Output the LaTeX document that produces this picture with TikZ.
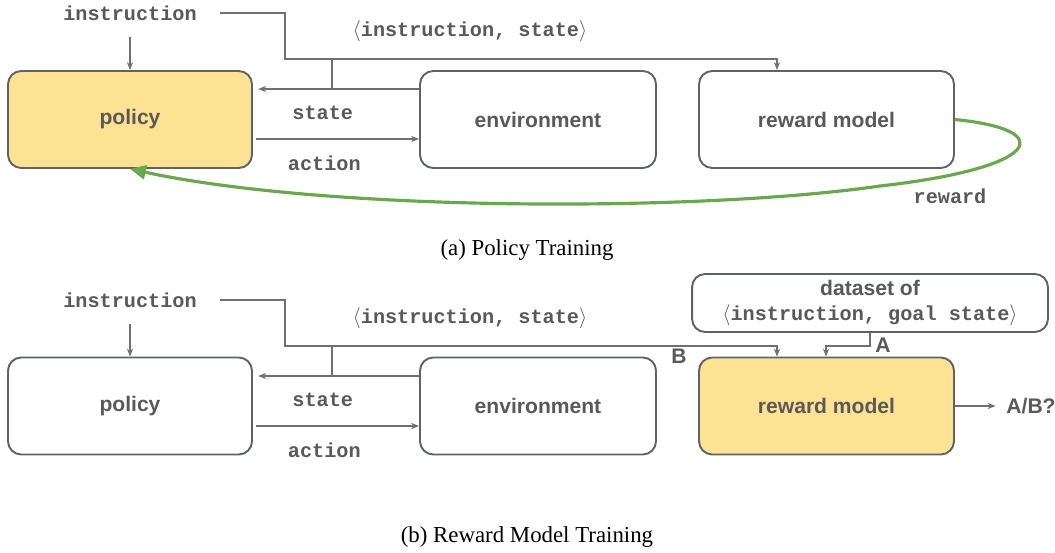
\documentclass[tikz,border=0pt]{standalone}
\usepackage{fontspec}
\setmainfont{Liberation Serif}
\setsansfont{Liberation Sans}
\setmonofont{Liberation Mono}
\usetikzlibrary{arrows.meta}

\definecolor{boxgray}{HTML}{5F6368}
\definecolor{txtgray}{HTML}{595959}
\definecolor{linegray}{HTML}{707070}
\definecolor{padyellow}{HTML}{FDE293}
\definecolor{rewgreen}{HTML}{6AA84F}

\newcommand{\boxfont}{\sffamily\bfseries\fontsize{12}{14.2}\selectfont}
\newcommand{\ttlab}{\ttfamily\bfseries\fontsize{11.5}{14}\selectfont}
\newcommand{\capfont}{\rmfamily\fontsize{13}{15}\selectfont}

\begin{document}
\begin{tikzpicture}[x=0.02cm, y=-0.02cm,
    blk/.style={draw=boxgray, line width=1.1pt, rounded corners=7.5pt,
      minimum height=1.94cm, text=txtgray, font=\boxfont},
    hot/.style={blk, fill=padyellow},
    monolbl/.style={text=txtgray, font=\ttlab, inner sep=1pt},
    sanslbl/.style={text=txtgray, font=\boxfont, inner sep=1pt},
    ln/.style={draw=linegray, line width=0.6pt},
    arr/.style={ln, -{Stealth[length=4.5pt, width=3.5pt]}},
    rew/.style={draw=rewgreen, line width=1.8pt, -{Triangle[length=9pt, width=8pt]}},
  ]
  \path[use as bounding box] (0,0) rectangle (1055,552);

  % (a) policy training
  \node[hot, minimum width=4.88cm] (pol1) at (130,119.5) {policy};
  \node[blk, minimum width=4.72cm] (env1) at (538,119.5) {environment};
  \node[blk, minimum width=5.1cm]  (rm1)  at (826.5,119.5) {reward model};
  \node[monolbl] (ins1)  at (130,13) {instruction};
  \node[monolbl] (pair1) at (470,31) {$\langle$instruction, state$\rangle$};
  \node[monolbl] (rwd)   at (950,196) {reward};
  \coordinate (bus1) at (285,59);
  \coordinate (rin1) at (777,59);
  \coordinate (st1)  at (332,89);
  \coordinate (ac1)  at (332,139);
  \coordinate (gm)   at (880,186);
  \draw[arr, shorten <=8pt] (ins1.south) -- (pol1.north -| ins1.south);
  \draw[arr, shorten <=12pt] (ins1.east) -| (bus1) -- (rin1) -- (rin1 |- rm1.north);
  \draw[ln] (st1) -- (st1 |- bus1);
  \draw[arr, shorten >=3pt] (env1.west |- st1) -- node[monolbl, pos=0.58, yshift=-13.6pt] {state} (pol1.east |- st1);
  \draw[arr, shorten <=1.5pt] (pol1.east |- ac1) -- node[monolbl, pos=0.43, yshift=-13.6pt] {action} (env1.west |- ac1);
  \draw[rew] (rm1.east) .. controls (1060,130) and (1040,168) .. (gm)
    .. controls (700,212) and (330,212) .. (pol1.south);
  \node[font=\capfont] (capa) at (527,250) {(a) Policy Training};

  % (b) reward model training
  \node[blk, minimum width=4.88cm] (pol2) at (130,406) {policy};
  \node[blk, minimum width=4.72cm] (env2) at (538,406) {environment};
  \node[hot, minimum width=5.1cm]  (rm2)  at (826.5,406) {reward model};
  \node[blk, minimum width=7.12cm, minimum height=1.16cm, align=center] (ds) at (870,303)
    {dataset of\\{\ttlab $\langle$instruction, goal state$\rangle$}};
  \node[monolbl] (ins2)  at (130,300) {instruction};
  \node[monolbl] (pair2) at (470,318) {$\langle$instruction, state$\rangle$};
  \node[sanslbl] (lblA)  at (883,345) {A};
  \node[sanslbl] (lblB)  at (679,356) {B};
  \node[sanslbl] (ab)    at (1031,406) {A/B?};
  \coordinate (bus2) at (285,346);
  \coordinate (rin2) at (777,346);
  \coordinate (ain)  at (826,346);
  \coordinate (st2)  at (332,376);
  \coordinate (ac2)  at (332,426);
  \draw[arr, shorten <=8pt] (ins2.south) -- (pol2.north -| ins2.south);
  \draw[arr, shorten <=12pt] (ins2.east) -| (bus2) -- (rin2) -- (rin2 |- rm2.north);
  \draw[ln] (st2) -- (st2 |- bus2);
  \draw[arr, shorten >=3pt] (env2.west |- st2) -- node[monolbl, pos=0.58, yshift=-13.6pt] {state} (pol2.east |- st2);
  \draw[arr, shorten <=1.5pt] (pol2.east |- ac2) -- node[monolbl, pos=0.43, yshift=-13.6pt] {action} (env2.west |- ac2);
  \draw[arr] (ds.south) |- (ain) -- (ain |- rm2.north);
  \draw[arr, shorten >=5pt] (rm2.east) -- (ab.west);
  \node[font=\capfont] (capb) at (527,537) {(b) Reward Model Training};
\end{tikzpicture}
\end{document}
